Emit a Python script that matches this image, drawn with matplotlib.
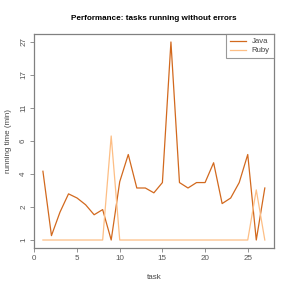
import numpy as np
import matplotlib
matplotlib.use("Agg")
import matplotlib.pyplot as plt

plt.rcParams['font.family'] = ['Liberation Sans', 'DejaVu Sans']

tasks = list(range(1, 28))
java = [4.0, 1.12, 1.9, 2.7, 2.5, 2.2, 1.8, 2.0, 1.0, 3.35, 5.25, 3.0, 3.0, 2.75,
        3.3, 27.0, 3.3, 3.0, 3.3, 3.3, 4.6, 2.25, 2.5, 3.3, 5.25, 1.0, 3.0]
ruby = [1, 1, 1, 1, 1, 1, 1, 1, 7.0, 1, 1, 1, 1, 1,
        1, 1, 1, 1, 1, 1, 1, 1, 1, 1, 1, 2.9, 1]

java_color = "#d2691e"
ruby_color = "#fdbe85"
axis_color = "#808080"

fig = plt.figure(figsize=(2.91, 2.91), dpi=100)
ax = fig.add_axes([0.117, 0.148, 0.8235, 0.735])

ax.plot(tasks, np.log1p(java), color=java_color, lw=0.9, label="Java")
ax.plot(tasks, np.log1p(ruby), color=ruby_color, lw=0.9, label="Ruby")

# y axis: log(y + 1), ticks equally spaced between min and max
lo, hi = np.log1p(1), np.log1p(27)
yticks = np.linspace(lo, hi, 7)
ax.set_yticks(yticks)
ax.set_yticklabels([str(int(round(v))) for v in np.expm1(yticks)], rotation=90, va="center")
pad = 0.04 * (hi - lo)
ax.set_ylim(lo - pad, hi + pad)

ax.set_xticks([0, 5, 10, 15, 20, 25])
ax.set_xlim(1 - 0.04 * 26, 27 + 0.04 * 26)

ax.tick_params(labelsize=5.8, colors="#555555", length=3, width=0.6, pad=2, color=axis_color)
for s in ax.spines.values():
    s.set_color(axis_color)
    s.set_linewidth(0.9)

ax.set_title("Performance: tasks running without errors", fontsize=5.9, fontweight="bold", pad=10)
ax.set_xlabel("task", fontsize=5.8, color="#444444", labelpad=9)
ax.set_ylabel("running time (min)", fontsize=5.8, color="#444444", labelpad=6)

leg = ax.legend(loc="upper right", fontsize=5.6, frameon=True, fancybox=False,
                borderaxespad=0, handlelength=2.0, handletextpad=0.8, borderpad=0.5,
                labelspacing=0.2)
leg.get_frame().set_edgecolor(axis_color)
leg.get_frame().set_linewidth(0.8)
for t in leg.get_texts():
    t.set_color("#444444")

fig.savefig("out.png", dpi=100)
